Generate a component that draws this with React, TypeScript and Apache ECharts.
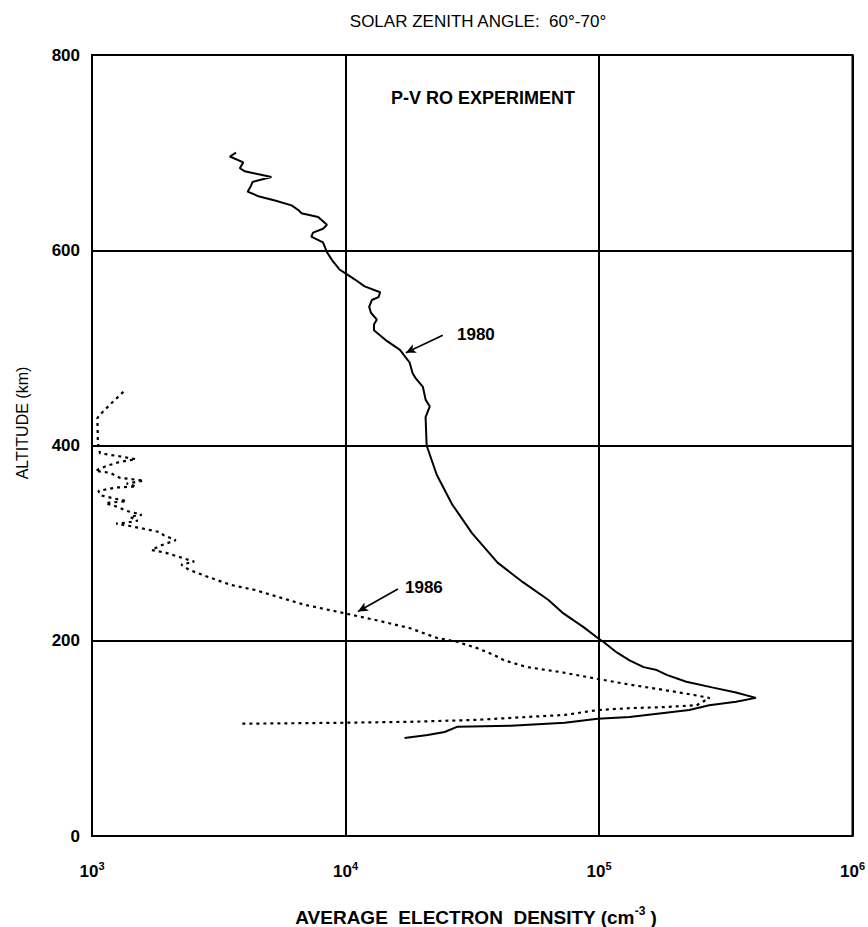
import { useEffect, useRef } from "react";
import * as echarts from "echarts";

// Altitude (km) and average electron density (cm^-3), 1980 profile, top to bottom
const altitude1980 = [
  700, 696, 690, 684, 681, 675, 670, 665, 660, 655, 651, 646, 641, 638, 634, 626, 622, 618, 614, 608,
  598, 590, 580, 577, 570, 563, 557, 552, 549, 542, 536, 529, 524, 518, 508, 498, 485, 474, 469, 460,
  447, 440, 429, 400, 370, 340, 310, 280, 260, 242, 228, 214, 202, 199, 188, 180, 173, 170, 165, 158,
  152, 147, 141.5, 137.5, 134, 129, 126, 122, 120, 116, 113, 112, 106.5, 103.5, 100.5,
];
const density1980 = [
  3700, 3500, 3950, 3830, 4000, 5100, 4300, 4220, 4110, 4570, 5270, 6130, 6530, 6700, 7800, 8450, 8150, 7450, 7330, 8150,
  8450, 8850, 9500, 9900, 10900, 11900, 13700, 13500, 12700, 12400, 12600, 13300, 12950, 12950, 14400, 16400, 17900, 18400, 18900, 20200,
  20700, 21500, 20700, 20900, 22900, 26300, 31600, 39800, 50100, 63000, 72400, 86900, 99800, 104000, 117500, 132000, 150000, 169000, 185000, 221000,
  282000, 347000, 416000, 347000, 272000, 227000, 180000, 132000, 98800, 73300, 44900, 27700, 24600, 21100, 17100,
];

// 1986 profile, top to bottom
const altitude1986 = [
  455, 444, 431, 428, 408, 403, 392, 389, 386, 383, 379, 374, 372, 367, 364, 361, 358, 357, 353.5, 349,
  346, 343, 341, 337, 333, 329, 327, 323, 321, 320, 317, 311.5, 308, 303, 298, 293, 290, 286, 281, 278,
  272.5, 264, 257, 252, 246, 237, 228.5, 221, 213, 203, 199, 192.5, 185.5, 180, 173, 168, 161, 155, 149.6, 144.5,
  141.4, 134, 132, 131, 129, 124, 122, 119, 117, 116, 115,
];
const density1986 = [
  1330, 1200, 1070, 1050, 1054, 1054, 1075, 1280, 1490, 1280, 1140, 1030, 1180, 1285, 1600, 1370, 1495, 1250, 1060, 1080,
  1210, 1370, 1130, 1265, 1370, 1570, 1410, 1515, 1370, 1245, 1445, 1840, 1920, 2140, 1890, 1715, 1960, 2200, 2530, 2250,
  2420, 2970, 3550, 4400, 5250, 6860, 9780, 13250, 17900, 22900, 27500, 33000, 38500, 42200, 52000, 70200, 98400, 132600, 180300, 236400,
  273000, 243000, 180300, 132600, 98700, 73300, 52400, 33300, 18100, 9930, 3850,
];

// Axis ranges and ticks
const altitudeMin = 0;
const altitudeMax = 800;
const altitudeStep = 200;
const densityMin = 1e3;
const densityMax = 1e6;

// Leader arrows for the curve labels: [density, altitude] from -> to
const arrow1980 = [[24200, 513], [17300, 495]];
const arrow1986 = [[16100, 253], [11200, 230]];

const FONT = "'Liberation Sans', Arial, Helvetica, sans-serif";

export default function App() {
  const ref = useRef<HTMLDivElement>(null);

  useEffect(() => {
    const chart = echarts.init(ref.current, null, { renderer: "svg" });
    const zip = (xs: number[], ys: number[]) => xs.map((x, i) => [x, ys[i]]);

    chart.setOption({
      animation: false,
      backgroundColor: "#fff",
      grid: {
        left: 92,
        right: 8,
        top: 55,
        bottom: 91,
        show: true,
        borderColor: "#000",
        borderWidth: 2,
      },
      xAxis: {
        type: "log",
        logBase: 10,
        min: densityMin,
        max: densityMax,
        axisLine: { show: true, lineStyle: { color: "#000", width: 2 } },
        axisTick: { show: false },
        splitLine: { show: true, lineStyle: { color: "#000", width: 2 } },
        minorSplitLine: { show: false },
        axisLabel: {
          margin: 24,
          formatter: (v: number) => `{b|10}{s|${Math.round(Math.log10(v))}}`,
          rich: {
            b: { fontSize: 17, fontWeight: "bold", fontFamily: FONT, color: "#000", lineHeight: 22 },
            s: { fontSize: 11, fontWeight: "bold", fontFamily: FONT, color: "#000", verticalAlign: "top", lineHeight: 22 },
          },
        },
      },
      yAxis: {
        type: "value",
        min: altitudeMin,
        max: altitudeMax,
        interval: altitudeStep,
        axisLine: { show: true, lineStyle: { color: "#000", width: 2 } },
        axisTick: { show: false },
        splitLine: { show: true, lineStyle: { color: "#000", width: 2 } },
        axisLabel: { margin: 12, fontSize: 17, fontWeight: "bold", fontFamily: FONT, color: "#000" },
      },
      series: [
        {
          name: "1980",
          type: "line",
          data: zip(density1980, altitude1980),
          showSymbol: false,
          symbol: "none",
          lineStyle: { color: "#000", width: 2 },
          markLine: {
            silent: true,
            symbol: ["none", "arrow"],
            symbolSize: [7, 10],
            label: { show: false },
            lineStyle: { color: "#000", width: 1.6, type: "solid" },
            data: [[{ coord: arrow1980[0] }, { coord: arrow1980[1] }]],
          },
        },
        {
          name: "1986",
          type: "line",
          data: zip(density1986, altitude1986),
          showSymbol: false,
          symbol: "none",
          lineStyle: { color: "#000", width: 2.2, type: [3, 4] },
          markLine: {
            silent: true,
            symbol: ["none", "arrow"],
            symbolSize: [7, 10],
            label: { show: false },
            lineStyle: { color: "#000", width: 1.6, type: "solid" },
            data: [[{ coord: arrow1986[0] }, { coord: arrow1986[1] }]],
          },
        },
      ],
      graphic: [
        {
          type: "text",
          x: 478,
          y: 21,
          style: {
            text: "SOLAR ZENITH ANGLE:  60°-70°",
            fontSize: 17,
            fontFamily: FONT,
            fill: "#000",
            align: "center",
            verticalAlign: "middle",
          },
        },
        {
          type: "text",
          x: 483,
          y: 98,
          style: {
            text: "P-V RO EXPERIMENT",
            fontSize: 18,
            fontWeight: "bold",
            fontFamily: FONT,
            fill: "#000",
            align: "center",
            verticalAlign: "middle",
          },
        },
        {
          type: "text",
          x: 457,
          y: 334,
          style: {
            text: "1980",
            fontSize: 17,
            fontWeight: "bold",
            fontFamily: FONT,
            fill: "#000",
            align: "left",
            verticalAlign: "middle",
          },
        },
        {
          type: "text",
          x: 405,
          y: 587,
          style: {
            text: "1986",
            fontSize: 17,
            fontWeight: "bold",
            fontFamily: FONT,
            fill: "#000",
            align: "left",
            verticalAlign: "middle",
          },
        },
        {
          type: "text",
          x: 22,
          y: 423,
          rotation: Math.PI / 2,
          style: {
            text: "ALTITUDE (km)",
            fontSize: 16,
            fontFamily: FONT,
            fill: "#000",
            align: "center",
            verticalAlign: "middle",
          },
        },
        {
          type: "text",
          x: 476,
          y: 917,
          style: {
            text: "{a|AVERAGE  ELECTRON  DENSITY (cm}{s|-3}{a| )}",
            fill: "#000",
            align: "center",
            verticalAlign: "middle",
            rich: {
              a: { fontSize: 19, fontWeight: "bold", fontFamily: FONT, fill: "#000", lineHeight: 24 },
              s: { fontSize: 12, fontWeight: "bold", fontFamily: FONT, fill: "#000", verticalAlign: "top", lineHeight: 24 },
            },
          },
        },
      ],
    });

    return () => chart.dispose();
  }, []);

  return <div ref={ref} style={{ position: "absolute", left: 0, top: 0, width: 868, height: 927 }} />;
}
